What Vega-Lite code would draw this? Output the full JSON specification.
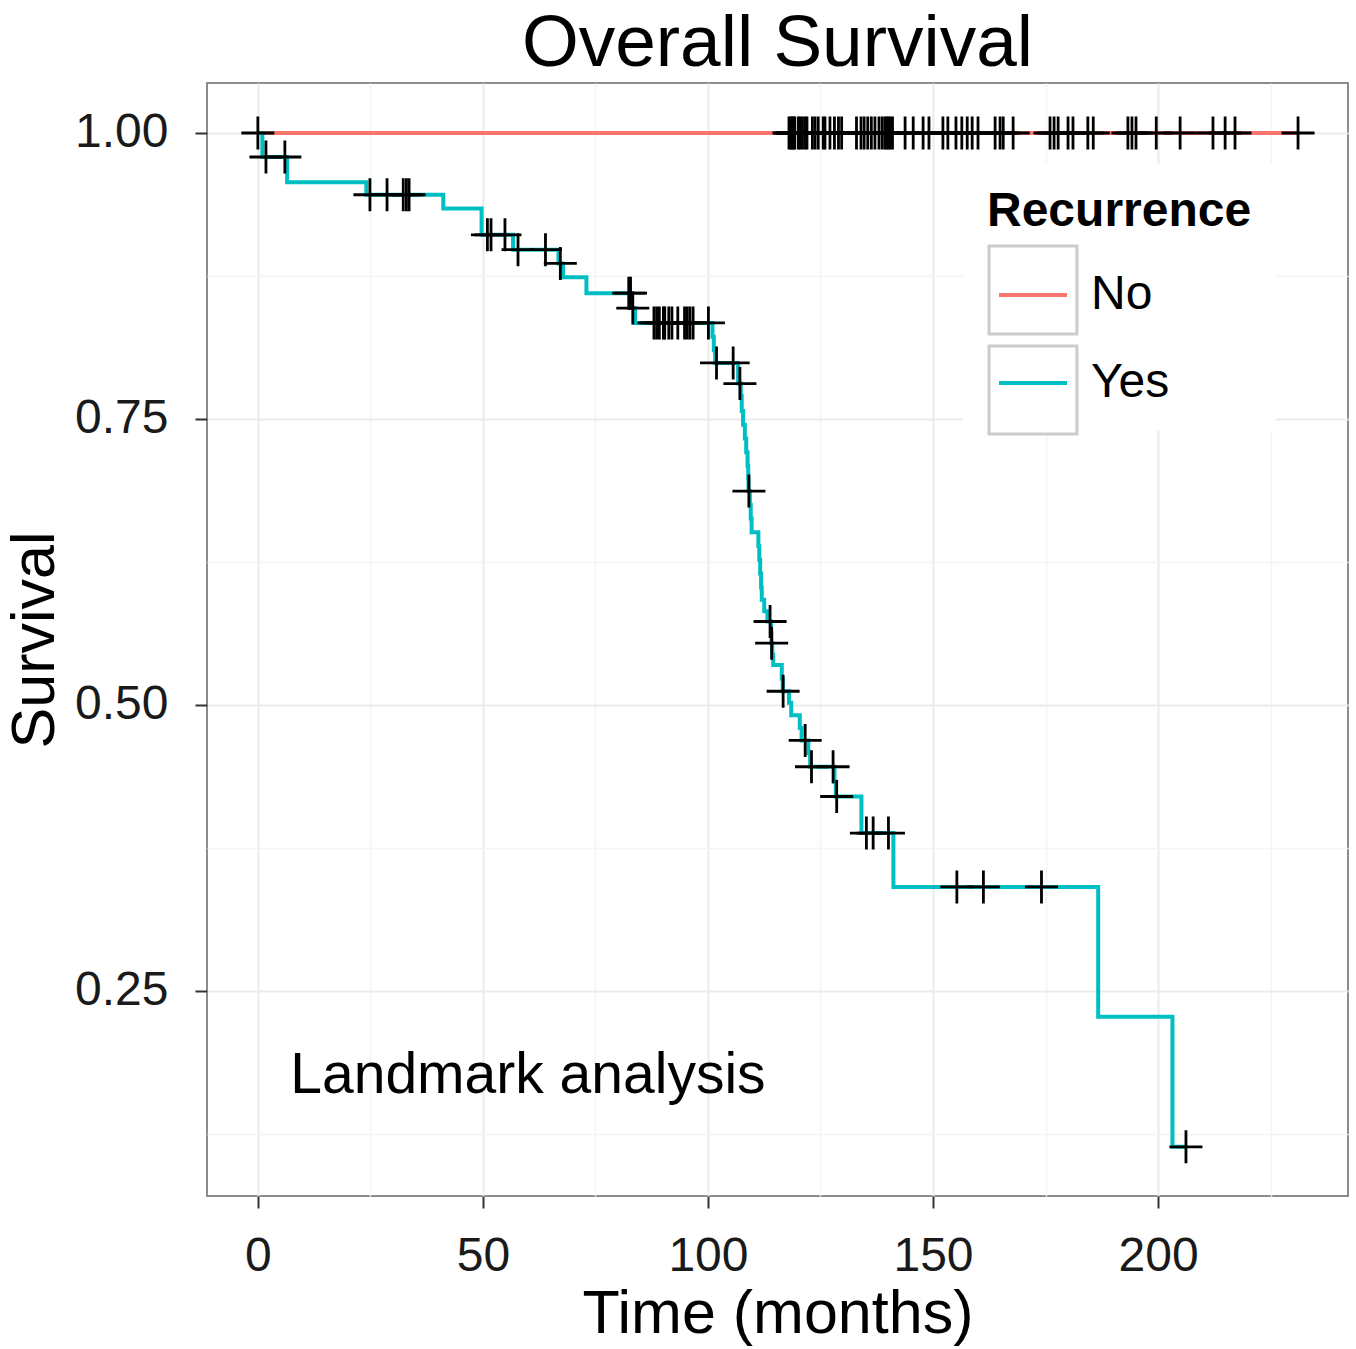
{
  "$schema": "https://vega.github.io/schema/vega-lite/v6.json",
  "width": 1141,
  "height": 1113,
  "autosize": {"type": "none"},
  "padding": {"left": 207, "top": 83, "right": 8, "bottom": 153},
  "background": "white",
  "config": {"view": {"stroke": "#8c8c8c", "strokeWidth": 2}},
  "title": {"text": "Overall Survival", "fontSize": 73, "font": "Liberation Sans", "fontWeight": "normal", "color": "black", "anchor": "middle", "offset": 2},
  "datasets": {
    "curves": [
      {"group": "No", "time": 0, "surv": 1.0},
      {"group": "No", "time": 231.1, "surv": 1.0},
      {"group": "Yes", "time": 0, "surv": 1.0},
      {"group": "Yes", "time": 1.0, "surv": 0.979},
      {"group": "Yes", "time": 6.5, "surv": 0.957},
      {"group": "Yes", "time": 24.1, "surv": 0.946},
      {"group": "Yes", "time": 41.2, "surv": 0.934},
      {"group": "Yes", "time": 49.7, "surv": 0.911},
      {"group": "Yes", "time": 56.7, "surv": 0.898},
      {"group": "Yes", "time": 66.8, "surv": 0.886},
      {"group": "Yes", "time": 67.8, "surv": 0.874},
      {"group": "Yes", "time": 73.0, "surv": 0.860},
      {"group": "Yes", "time": 83.0, "surv": 0.847},
      {"group": "Yes", "time": 83.8, "surv": 0.834},
      {"group": "Yes", "time": 101.0, "surv": 0.822},
      {"group": "Yes", "time": 101.3, "surv": 0.810},
      {"group": "Yes", "time": 101.6, "surv": 0.799},
      {"group": "Yes", "time": 106.7, "surv": 0.781},
      {"group": "Yes", "time": 107.3, "surv": 0.770},
      {"group": "Yes", "time": 107.5, "surv": 0.757},
      {"group": "Yes", "time": 107.8, "surv": 0.745},
      {"group": "Yes", "time": 108.2, "surv": 0.733},
      {"group": "Yes", "time": 108.5, "surv": 0.721},
      {"group": "Yes", "time": 108.8, "surv": 0.709},
      {"group": "Yes", "time": 108.95, "surv": 0.698},
      {"group": "Yes", "time": 109.0, "surv": 0.687},
      {"group": "Yes", "time": 109.3, "surv": 0.675},
      {"group": "Yes", "time": 109.5, "surv": 0.663},
      {"group": "Yes", "time": 109.7, "surv": 0.651},
      {"group": "Yes", "time": 111.2, "surv": 0.639},
      {"group": "Yes", "time": 111.4, "surv": 0.627},
      {"group": "Yes", "time": 111.6, "surv": 0.615},
      {"group": "Yes", "time": 111.8, "surv": 0.603},
      {"group": "Yes", "time": 111.95, "surv": 0.592},
      {"group": "Yes", "time": 112.5, "surv": 0.582},
      {"group": "Yes", "time": 113.2, "surv": 0.573},
      {"group": "Yes", "time": 114.0, "surv": 0.563},
      {"group": "Yes", "time": 114.1, "surv": 0.554},
      {"group": "Yes", "time": 114.3, "surv": 0.544},
      {"group": "Yes", "time": 114.5, "surv": 0.535},
      {"group": "Yes", "time": 116.4, "surv": 0.523},
      {"group": "Yes", "time": 116.6, "surv": 0.512},
      {"group": "Yes", "time": 118.0, "surv": 0.502},
      {"group": "Yes", "time": 118.5, "surv": 0.491},
      {"group": "Yes", "time": 120.4, "surv": 0.480},
      {"group": "Yes", "time": 120.8, "surv": 0.469},
      {"group": "Yes", "time": 122.3, "surv": 0.458},
      {"group": "Yes", "time": 122.7, "surv": 0.446},
      {"group": "Yes", "time": 128.1, "surv": 0.433},
      {"group": "Yes", "time": 128.4, "surv": 0.420},
      {"group": "Yes", "time": 134.1, "surv": 0.388},
      {"group": "Yes", "time": 141.2, "surv": 0.341},
      {"group": "Yes", "time": 186.7, "surv": 0.2275},
      {"group": "Yes", "time": 203.2, "surv": 0.1138},
      {"group": "Yes", "time": 206.2, "surv": 0.1138}
    ],
    "censors": [
      {"group": "No", "time": 0, "surv": 1.0},
      {"group": "No", "time": 118.0, "surv": 1.0},
      {"group": "No", "time": 118.4, "surv": 1.0},
      {"group": "No", "time": 118.7, "surv": 1.0},
      {"group": "No", "time": 119.0, "surv": 1.0},
      {"group": "No", "time": 119.3, "surv": 1.0},
      {"group": "No", "time": 120.1, "surv": 1.0},
      {"group": "No", "time": 120.5, "surv": 1.0},
      {"group": "No", "time": 121.0, "surv": 1.0},
      {"group": "No", "time": 121.6, "surv": 1.0},
      {"group": "No", "time": 122.0, "surv": 1.0},
      {"group": "No", "time": 123.2, "surv": 1.0},
      {"group": "No", "time": 123.8, "surv": 1.0},
      {"group": "No", "time": 124.5, "surv": 1.0},
      {"group": "No", "time": 125.6, "surv": 1.0},
      {"group": "No", "time": 126.0, "surv": 1.0},
      {"group": "No", "time": 127.1, "surv": 1.0},
      {"group": "No", "time": 128.1, "surv": 1.0},
      {"group": "No", "time": 129.0, "surv": 1.0},
      {"group": "No", "time": 129.7, "surv": 1.0},
      {"group": "No", "time": 133.0, "surv": 1.0},
      {"group": "No", "time": 134.0, "surv": 1.0},
      {"group": "No", "time": 134.7, "surv": 1.0},
      {"group": "No", "time": 135.5, "surv": 1.0},
      {"group": "No", "time": 136.3, "surv": 1.0},
      {"group": "No", "time": 137.1, "surv": 1.0},
      {"group": "No", "time": 138.0, "surv": 1.0},
      {"group": "No", "time": 138.7, "surv": 1.0},
      {"group": "No", "time": 139.3, "surv": 1.0},
      {"group": "No", "time": 139.7, "surv": 1.0},
      {"group": "No", "time": 140.1, "surv": 1.0},
      {"group": "No", "time": 140.5, "surv": 1.0},
      {"group": "No", "time": 141.0, "surv": 1.0},
      {"group": "No", "time": 143.8, "surv": 1.0},
      {"group": "No", "time": 145.6, "surv": 1.0},
      {"group": "No", "time": 147.8, "surv": 1.0},
      {"group": "No", "time": 149.1, "surv": 1.0},
      {"group": "No", "time": 152.2, "surv": 1.0},
      {"group": "No", "time": 153.3, "surv": 1.0},
      {"group": "No", "time": 155.1, "surv": 1.0},
      {"group": "No", "time": 156.4, "surv": 1.0},
      {"group": "No", "time": 157.6, "surv": 1.0},
      {"group": "No", "time": 158.7, "surv": 1.0},
      {"group": "No", "time": 160.0, "surv": 1.0},
      {"group": "No", "time": 163.8, "surv": 1.0},
      {"group": "No", "time": 164.9, "surv": 1.0},
      {"group": "No", "time": 165.6, "surv": 1.0},
      {"group": "No", "time": 167.8, "surv": 1.0},
      {"group": "No", "time": 176.0, "surv": 1.0},
      {"group": "No", "time": 176.9, "surv": 1.0},
      {"group": "No", "time": 177.8, "surv": 1.0},
      {"group": "No", "time": 180.0, "surv": 1.0},
      {"group": "No", "time": 181.1, "surv": 1.0},
      {"group": "No", "time": 184.4, "surv": 1.0},
      {"group": "No", "time": 185.6, "surv": 1.0},
      {"group": "No", "time": 193.3, "surv": 1.0},
      {"group": "No", "time": 194.2, "surv": 1.0},
      {"group": "No", "time": 195.1, "surv": 1.0},
      {"group": "No", "time": 199.6, "surv": 1.0},
      {"group": "No", "time": 204.9, "surv": 1.0},
      {"group": "No", "time": 212.2, "surv": 1.0},
      {"group": "No", "time": 214.9, "surv": 1.0},
      {"group": "No", "time": 217.1, "surv": 1.0},
      {"group": "No", "time": 231.1, "surv": 1.0},
      {"group": "Yes", "time": 1.8, "surv": 0.979},
      {"group": "Yes", "time": 6.0, "surv": 0.979},
      {"group": "Yes", "time": 24.9, "surv": 0.946},
      {"group": "Yes", "time": 28.7, "surv": 0.946},
      {"group": "Yes", "time": 32.3, "surv": 0.946},
      {"group": "Yes", "time": 33.0, "surv": 0.946},
      {"group": "Yes", "time": 33.6, "surv": 0.946},
      {"group": "Yes", "time": 51.0, "surv": 0.911},
      {"group": "Yes", "time": 51.8, "surv": 0.911},
      {"group": "Yes", "time": 54.9, "surv": 0.911},
      {"group": "Yes", "time": 57.8, "surv": 0.898},
      {"group": "Yes", "time": 63.9, "surv": 0.898},
      {"group": "Yes", "time": 67.2, "surv": 0.886},
      {"group": "Yes", "time": 82.4, "surv": 0.860},
      {"group": "Yes", "time": 82.8, "surv": 0.860},
      {"group": "Yes", "time": 83.3, "surv": 0.847},
      {"group": "Yes", "time": 88.0, "surv": 0.834},
      {"group": "Yes", "time": 88.6, "surv": 0.834},
      {"group": "Yes", "time": 89.2, "surv": 0.834},
      {"group": "Yes", "time": 90.1, "surv": 0.834},
      {"group": "Yes", "time": 90.4, "surv": 0.834},
      {"group": "Yes", "time": 91.3, "surv": 0.834},
      {"group": "Yes", "time": 92.0, "surv": 0.834},
      {"group": "Yes", "time": 93.3, "surv": 0.834},
      {"group": "Yes", "time": 94.8, "surv": 0.834},
      {"group": "Yes", "time": 95.4, "surv": 0.834},
      {"group": "Yes", "time": 96.0, "surv": 0.834},
      {"group": "Yes", "time": 96.7, "surv": 0.834},
      {"group": "Yes", "time": 100.1, "surv": 0.834},
      {"group": "Yes", "time": 101.9, "surv": 0.799},
      {"group": "Yes", "time": 105.6, "surv": 0.799},
      {"group": "Yes", "time": 107.1, "surv": 0.781},
      {"group": "Yes", "time": 109.1, "surv": 0.687},
      {"group": "Yes", "time": 113.8, "surv": 0.573},
      {"group": "Yes", "time": 114.15, "surv": 0.554},
      {"group": "Yes", "time": 116.7, "surv": 0.512},
      {"group": "Yes", "time": 121.6, "surv": 0.469},
      {"group": "Yes", "time": 123.0, "surv": 0.446},
      {"group": "Yes", "time": 127.8, "surv": 0.446},
      {"group": "Yes", "time": 128.6, "surv": 0.420},
      {"group": "Yes", "time": 135.2, "surv": 0.388},
      {"group": "Yes", "time": 136.7, "surv": 0.388},
      {"group": "Yes", "time": 140.1, "surv": 0.388},
      {"group": "Yes", "time": 155.3, "surv": 0.341},
      {"group": "Yes", "time": 161.2, "surv": 0.341},
      {"group": "Yes", "time": 174.1, "surv": 0.341},
      {"group": "Yes", "time": 206.2, "surv": 0.1138}
    ],
    "note": [{"label": "Landmark analysis"}]
  },
  "layer": [
    {
      "data": {"name": "curves"},
      "mark": {"type": "line", "interpolate": "step-after", "strokeWidth": 4},
      "encoding": {
        "x": {
          "field": "time", "type": "quantitative",
          "scale": {"domain": [-11.3, 242.2], "nice": false, "zero": false},
          "axis": {
            "values": [0, 25, 50, 75, 100, 125, 150, 175, 200, 225],
            "title": "Time (months)",
            "labelExpr": "datum.value % 50 === 0 ? datum.label : ''",
            "grid": true,
            "gridColor": {"condition": {"test": "datum.value % 50 === 0", "value": "#ebebeb"}, "value": "#f4f4f4"},
            "gridWidth": {"condition": {"test": "datum.value % 50 === 0", "value": 2}, "value": 1.5},
            "tickOpacity": {"condition": {"test": "datum.value % 50 === 0", "value": 1}, "value": 0},
            "domain": false,
            "tickSize": 12, "tickWidth": 2, "tickColor": "#333333",
            "labelFontSize": 48, "labelFont": "Liberation Sans", "labelColor": "#1a1a1a", "labelPadding": 24,
            "labelFlush": false, "labelOverlap": false,
            "titleFontSize": 61, "titleFont": "Liberation Sans", "titleFontWeight": "normal", "titleColor": "black", "titlePadding": 4
          }
        },
        "y": {
          "field": "surv", "type": "quantitative",
          "scale": {"domain": [0.0708, 1.0437], "nice": false, "zero": false},
          "axis": {
            "values": [0.125, 0.25, 0.375, 0.5, 0.625, 0.75, 0.875, 1.0],
            "format": ".2f",
            "title": "Survival",
            "labelExpr": "abs(datum.value * 4 - round(datum.value * 4)) < 0.001 ? datum.label : ''",
            "grid": true,
            "gridColor": {"condition": {"test": "abs(datum.value * 4 - round(datum.value * 4)) < 0.001", "value": "#ebebeb"}, "value": "#f4f4f4"},
            "gridWidth": {"condition": {"test": "abs(datum.value * 4 - round(datum.value * 4)) < 0.001", "value": 2}, "value": 1.5},
            "tickOpacity": {"condition": {"test": "abs(datum.value * 4 - round(datum.value * 4)) < 0.001", "value": 1}, "value": 0},
            "domain": false,
            "tickSize": 12, "tickWidth": 2, "tickColor": "#333333",
            "labelFontSize": 48, "labelFont": "Liberation Sans", "labelColor": "#1a1a1a", "labelPadding": 27,
            "labelFlush": false, "labelOverlap": false,
            "titleFontSize": 61, "titleFont": "Liberation Sans", "titleFontWeight": "normal", "titleColor": "black", "titlePadding": 8
          }
        },
        "color": {
          "field": "group", "type": "nominal",
          "scale": {"domain": ["No", "Yes"], "range": ["#F8766D", "#00BFC4"]},
          "legend": {
            "title": "Recurrence",
            "orient": "none", "legendX": 756, "legendY": 81,
            "fillColor": "white", "padding": 24,
            "symbolType": "stroke", "symbolSize": 4624, "symbolStrokeWidth": 4, "symbolOffset": 10,
            "labelOffset": 22, "rowPadding": 28,
            "titleFontSize": 48, "titleFont": "Liberation Sans", "titleFontWeight": "bold", "titleColor": "black", "titlePadding": 23, "titleLimit": 600,
            "labelFontSize": 48, "labelFont": "Liberation Sans", "labelColor": "black", "labelLimit": 400
          }
        }
      }
    },
    {
      "data": {"name": "curves"},
      "transform": [{"filter": "false"}],
      "mark": {"type": "point", "opacity": 0},
      "encoding": {
        "x": {"field": "time", "type": "quantitative"},
        "y": {"field": "surv", "type": "quantitative"},
        "shape": {
          "field": "group", "type": "nominal",
          "scale": {"domain": ["key box 1", "key box 2"], "range": ["M-1.086,-1.086H1.086V1.086H-1.086Z", "M-1.086,-1.086H1.086V1.086H-1.086Z"]},
          "legend": {
            "title": " ",
            "orient": "none", "legendX": 756, "legendY": 81,
            "padding": 24,
            "symbolSize": 6561, "symbolStrokeColor": "#cccccc", "symbolStrokeWidth": 3, "symbolFillColor": "transparent", "symbolOpacity": 1, "symbolOffset": 4,
            "labelOffset": 0, "rowPadding": 0, "labelExpr": "''",
            "titleFontSize": 48, "titleFont": "Liberation Sans", "titleFontWeight": "bold", "titleOpacity": 0, "titlePadding": 12, "titleLimit": 600,
            "labelFontSize": 48, "labelFont": "Liberation Sans", "labelOpacity": 0, "labelLimit": 400
          }
        }
      }
    },
    {
      "data": {"name": "censors"},
      "mark": {"type": "point", "shape": "M-1,0H1M0,-1V1", "size": 1089, "filled": false, "stroke": "black", "strokeWidth": 2.8, "opacity": 1},
      "encoding": {
        "x": {"field": "time", "type": "quantitative"},
        "y": {"field": "surv", "type": "quantitative"}
      }
    },
    {
      "data": {"name": "note"},
      "mark": {"type": "text", "fontSize": 57, "font": "Liberation Sans", "align": "center", "baseline": "alphabetic", "color": "black"},
      "encoding": {
        "x": {"datum": 60, "type": "quantitative"},
        "y": {"datum": 0.161, "type": "quantitative"},
        "text": {"field": "label"}
      }
    }
  ]
}
